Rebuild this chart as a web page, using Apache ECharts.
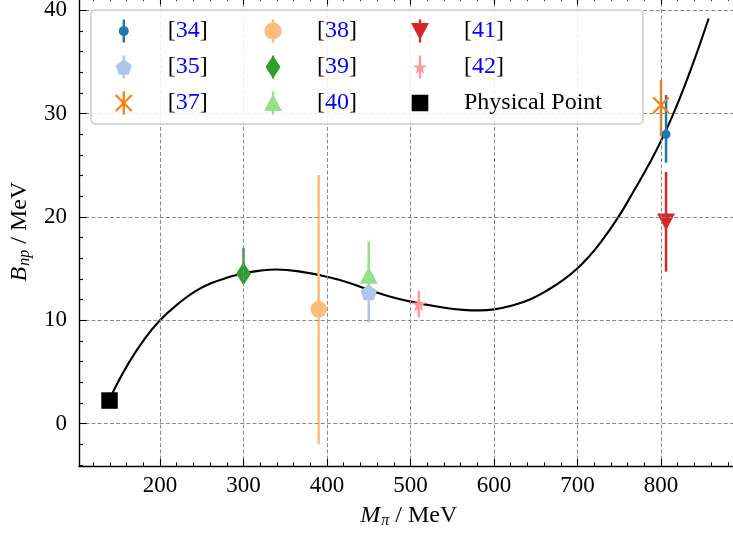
<!DOCTYPE html>
<html><head><meta charset="utf-8">
<script src="https://cdn.jsdelivr.net/npm/echarts@6/dist/echarts.min.js"></script>
<style>html,body{margin:0;padding:0;background:#fff}#c{width:733px;height:536px}</style>
</head><body><div id="c"></div>
<script>
// ---------------- data ----------------
const refNames = ['[34]', '[35]', '[37]', '[38]', '[39]', '[40]', '[41]', '[42]'];
const mpi      = [806,   450,   800,   390,   300,   450,   806,   510];
const bnp      = [28.0,  12.7,  30.8,  11.05, 14.5,  14.35, 19.5,  11.55];
const errLow   = [2.75,  2.9,   3.0,   13.05, 1.0,   2.0,   4.8,   1.28];
const errHigh  = [3.8,   2.9,   2.45,  13.0,  2.5,   3.25,  4.85,  1.28];
const physicalPoint = [139.57, 2.2246];
const fitX = [139.57, 144, 162, 182, 200, 222, 242, 262, 282, 300, 320, 340, 368, 400, 427, 451, 475, 500, 530, 563, 583, 600, 623, 643, 663, 683, 699, 713, 727, 749, 767, 787, 805, 823, 839, 857];
const fitY = [2.22, 3.1, 5.8, 8.25, 10.0, 11.6, 12.8, 13.6, 14.15, 14.55, 14.8, 14.9, 14.7, 14.2, 13.6, 12.9, 12.3, 11.8, 11.35, 11.0, 10.95, 11.05, 11.45, 12.0, 12.85, 13.9, 14.95, 16.1, 17.45, 20.0, 22.45, 25.3, 28.2, 31.6, 35.0, 39.2];
const xTicks = [200, 300, 400, 500, 600, 700, 800];
const xMinorTicks = [120,140,160,180,220,240,260,280,320,340,360,380,420,440,460,480,520,540,560,580,620,640,660,680,720,740,760,780,820,840,860,880];
const yTicks = [0, 10, 20, 30, 40];
const yMinorTicks = [-4,-2,2,4,6,8,12,14,16,18,22,24,26,28,32,34,36,38];

// ---------------- styles ----------------
const FONT = 'Liberation Serif, DejaVu Serif, serif';
const colors = ['#1f77b4', '#aec7e8', '#ff7f0e', '#ffbb78', '#2ca02c', '#98df8a', '#d62728', '#ff9896'];

function poly(pts) { return 'M' + pts.map(p => p[0].toFixed(2) + ',' + p[1].toFixed(2)).join('L') + 'Z'; }
function circleShape(r) { const p = []; for (let k = 0; k < 36; k++) { const t = 2 * Math.PI * k / 36; p.push([r * Math.cos(t), r * Math.sin(t)]); } return [p]; }
function pentagonShape(r) { const p = []; for (let k = 0; k < 5; k++) { const t = (-90 + 72 * k) * Math.PI / 180; p.push([r * Math.cos(t), r * Math.sin(t) + 0.8]); } return [p]; }
function starShape(R) { const p = []; const ri = R * 0.382; for (let k = 0; k < 10; k++) { const t = (-90 + 36 * k) * Math.PI / 180; const rr = k % 2 ? ri : R; p.push([rr * Math.cos(t), rr * Math.sin(t) + 0.8]); } return [p]; }
function triUp(h) { return [[[0, -h], [h, h * 0.9], [-h, h * 0.9]]]; }
function triDown(h) { return [[[-h, -h * 0.9], [h, -h * 0.9], [0, h]]]; }
function diamondShape(w, h) { return [[[0, -h], [w, 0], [0, h], [-w, 0]]]; }
function xShape(a, t) { const o = t / 2 / Math.SQRT2;
  return [[[-a + o, -a - o], [a + o, a - o], [a - o, a + o], [-a - o, -a + o]],
          [[-a - o, a - o], [a - o, -a - o], [a + o, -a + o], [-a + o, a + o]]]; }
function pathOf(shapes) { return 'path://' + shapes.map(poly).join(''); }
const bar = [[-1.2, -11.5], [1.2, -11.5], [1.2, 11.5], [-1.2, 11.5]];

const markerShapes = [circleShape(5), pentagonShape(8.5), xShape(8, 2.2), circleShape(8.5), diamondShape(7.5, 11.5), triUp(9), triDown(9), starShape(7.5)];
const mainSymbols = [
  { symbol: 'circle', size: 9 },
  { symbol: pathOf(pentagonShape(8.5)), size: 16.5 },
  { symbol: pathOf(xShape(8, 2.2)), size: 17 },
  { symbol: 'circle', size: 16.5 },
  { symbol: 'diamond', size: [15, 23] },
  { symbol: pathOf(triUp(9)), size: 18 },
  { symbol: pathOf(triDown(9)), size: 18 },
  { symbol: pathOf(starShape(7.5)), size: 15 }
];
const legendIcons = markerShapes.map(s => pathOf([bar].concat(s)));
const physIcon = pathOf([[[-8.3, -8.3], [8.3, -8.3], [8.3, 8.3], [-8.3, 8.3]], [[-1, -11.5], [1, -11.5], [1, -11.45], [-1, -11.45]], [[-1, 11.45], [1, 11.45], [1, 11.5], [-1, 11.5]]]);

// ---------------- series ----------------
const series = [{
  type: 'line', name: 'fit', data: fitX.map((x, i) => [x, fitY[i]]), showSymbol: false, smooth: 0.45,
  lineStyle: { color: '#000', width: 2.1 }, z: 2, silent: true, xAxisIndex: 0, yAxisIndex: 0
}];
refNames.forEach((n, i) => {
  series.push({
    type: 'custom', name: 'err' + n, xAxisIndex: 0, yAxisIndex: 0, z: 3, silent: true,
    dimensions: ['x', 'y', 'lo', 'hi'], encode: { x: 0, y: 1 },
    data: [[mpi[i], bnp[i], errLow[i], errHigh[i]]],
    renderItem: function (params, api) {
      const x = api.value(0), y = api.value(1);
      const p1 = api.coord([x, y - api.value(2)]), p2 = api.coord([x, y + api.value(3)]);
      return { type: 'line', shape: { x1: p1[0], y1: p1[1], x2: p2[0], y2: p2[1] }, style: { stroke: colors[i], lineWidth: 2.5 } };
    }
  });
});
refNames.forEach((n, i) => {
  series.push({
    type: 'scatter', name: n, xAxisIndex: 0, yAxisIndex: 0, z: 4, silent: true,
    data: [[mpi[i], bnp[i]]], symbol: mainSymbols[i].symbol, symbolSize: mainSymbols[i].size, symbolKeepAspect: true,
    itemStyle: { color: colors[i], opacity: 1 }
  });
});
series.push({
  type: 'scatter', name: 'Physical Point', xAxisIndex: 0, yAxisIndex: 0, z: 4, silent: true,
  data: [physicalPoint], symbol: 'rect', symbolSize: 16.5, itemStyle: { color: '#000', opacity: 1 }
});

// ---------------- axes ----------------
const X_MIN = 103, X_MAX = 893, Y_MIN = -4.15, Y_MAX = 41.3;
const lineBlack = { color: '#000', width: 1.4 };
function xAxisDef(pos, ticks, len, major, showLine) {
  return {
    type: 'value', min: X_MIN, max: X_MAX, position: pos, gridIndex: 0,
    axisLine: { show: showLine, onZero: false, lineStyle: lineBlack },
    axisTick: { show: true, inside: true, length: len, customValues: ticks, lineStyle: { color: '#000', width: 1.1 } },
    axisLabel: (major && pos === 'bottom') ? { show: true, customValues: ticks, margin: 8, color: '#000', fontSize: 23, fontFamily: FONT } : { show: false },
    splitLine: (major && pos === 'bottom') ? { show: true, lineStyle: { color: '#8a8a8a', width: 1, type: [4, 2.2] } } : { show: false },
    minorTick: { show: false }, minorSplitLine: { show: false }, z: 5
  };
}
function yAxisDef(pos, ticks, len, major, showLine) {
  return {
    type: 'value', min: Y_MIN, max: Y_MAX, position: pos, gridIndex: 0,
    axisLine: { show: showLine, onZero: false, lineStyle: lineBlack },
    axisTick: { show: true, inside: true, length: len, customValues: ticks, lineStyle: { color: '#000', width: 1.1 } },
    axisLabel: (major && pos === 'left') ? { show: true, customValues: ticks, margin: 12, color: '#000', fontSize: 23, fontFamily: FONT } : { show: false },
    splitLine: (major && pos === 'left') ? { show: true, lineStyle: { color: '#8a8a8a', width: 1, type: [4, 2.2] } } : { show: false },
    minorTick: { show: false }, minorSplitLine: { show: false }, z: 5
  };
}
const xAxes = [xAxisDef('bottom', xTicks, 7.5, true, true), xAxisDef('bottom', xMinorTicks, 4, false, false),
               xAxisDef('top', xTicks, 7.5, true, true), xAxisDef('top', xMinorTicks, 4, false, false)];
const yAxes = [yAxisDef('left', yTicks, 7.5, true, true), yAxisDef('left', yMinorTicks, 4, false, false)];
const nameRich = {
  i: { fontStyle: 'italic', fontSize: 24, fontFamily: FONT, color: '#000', lineHeight: 24 },
  s: { fontStyle: 'italic', fontSize: 16, fontFamily: FONT, color: '#000', lineHeight: 16, padding: [10, 0, 0, 1] },
  n: { fontSize: 24, fontFamily: FONT, color: '#000', lineHeight: 24 }
};
Object.assign(xAxes[0], { name: '{i|M}{s|π}{n| / MeV}', nameLocation: 'middle', nameGap: 35, nameTextStyle: { rich: nameRich } });
Object.assign(yAxes[0], { name: '{i|B}{s|np}{n| / MeV}', nameLocation: 'middle', nameGap: 34, nameTextStyle: { rich: nameRich } });

// ---------------- legend ----------------
const legRich = {
  a: { color: '#000', fontSize: 24, fontFamily: FONT, lineHeight: 23 },
  b: { color: '#0000ff', fontSize: 24, fontFamily: FONT, lineHeight: 23 }
};
function legendCol(items, left) {
  return {
    orient: 'vertical', left: left, top: 19, padding: 0, itemWidth: 78, itemHeight: 23, itemGap: 12,
    selectedMode: false, z: 200, symbolKeepAspect: true,
    data: items,
    textStyle: { color: '#000', fontSize: 24, fontFamily: FONT, lineHeight: 23, rich: legRich },
    formatter: name => name.charAt(0) === '[' ? '{a|[}{b|' + name.slice(1, -1) + '}{a|]}' : name
  };
}
const li = i => ({ name: refNames[i], icon: legendIcons[i] });
const legends = [
  legendCol([li(0), li(1), li(2)], 115),
  legendCol([li(3), li(4), li(5)], 264),
  legendCol([li(6), li(7), { name: 'Physical Point', icon: physIcon }], 411)
];

const chart = echarts.init(document.getElementById('c'), null, { renderer: 'canvas' });
chart.setOption({
  animation: false,
  backgroundColor: '#fff',
  grid: { left: 79, right: -5.7, top: -3.2, bottom: 69.6, containLabel: false, outerBoundsMode: 'none' },
  xAxis: xAxes,
  yAxis: yAxes,
  legend: legends,
  graphic: { elements: [{ type: 'rect', z: 100, silent: true,
    shape: { x: 91, y: 10, width: 552, height: 114, r: 4 },
    style: { fill: 'rgba(255,255,255,0.85)', stroke: '#cccccc', lineWidth: 1.5 } }] },
  series: series
});
</script></body></html>
